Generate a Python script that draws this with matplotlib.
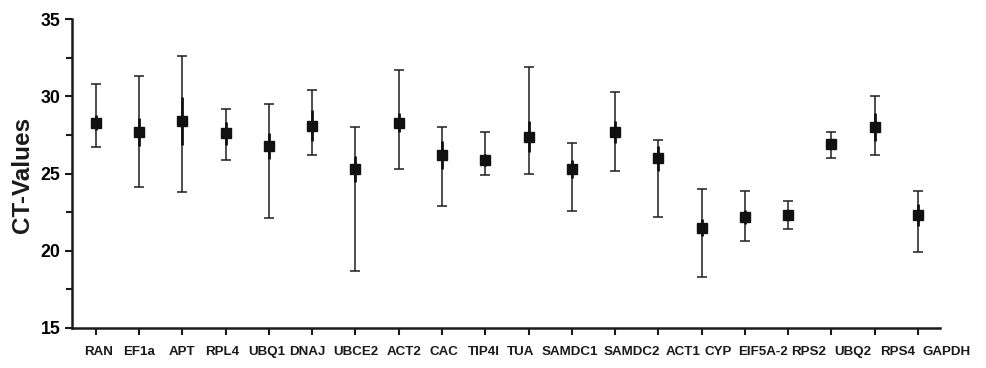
# CT-value ranges of candidate reference genes

import matplotlib.pyplot as plt
import numpy as np

genes = ["RAN", "EF1a", "APT", "RPL4", "UBQ1", "DNAJ", "UBCE2", "ACT2", "CAC", "TIP4I",
         "TUA", "SAMDC1", "SAMDC2", "ACT1", "CYP", "EIF5A-2", "RPS2", "UBQ2", "RPS4", "GAPDH"]

# mean CT per gene
ct_mean = [28.3, 27.7, 28.4, 27.6, 26.8, 28.1, 25.3, 28.3, 26.2, 25.9,
           27.4, 25.3, 27.7, 26.0, 21.5, 22.2, 22.3, 26.9, 28.0, 22.3]
# whiskers: max / min
ct_max = [30.8, 31.3, 32.6, 29.2, 29.5, 30.4, 28.0, 31.7, 28.0, 27.7,
          31.9, 27.0, 30.3, 27.2, 24.0, 23.9, 23.2, 27.7, 30.0, 23.9]
ct_min = [26.7, 24.1, 23.8, 25.9, 22.1, 26.2, 18.7, 25.3, 22.9, 24.9,
          25.0, 22.6, 25.2, 22.2, 18.3, 20.6, 21.4, 26.0, 26.2, 19.9]
# standard deviation (thick inner bar)
ct_sd = [0.5, 0.9, 1.55, 0.75, 0.85, 1.0, 0.85, 0.6, 0.9, 0.4,
         1.0, 0.6, 0.7, 0.8, 0.55, 0.45, 0.3, 0.3, 0.9, 0.7]

# the gene names in the original sit a bit off their ticks (in tick units)
label_shift = [0.07, 0.0, 0.0, -0.09, -0.05, -0.12, 0.01, 0.12, 0.04, -0.03,
               -0.18, -0.04, 0.39, 0.57, 0.38, 0.42, 0.48, 0.5, 0.54, 0.67]

x = np.arange(len(genes))
mean = np.array(ct_mean)
err = [mean - np.array(ct_min), np.array(ct_max) - mean]

fig = plt.figure(figsize=(9.86, 3.68), dpi=100)
ax = fig.add_axes([0.073, 0.109, 0.880, 0.8385])

ink = "#111111"
ax.errorbar(x, mean, yerr=err, fmt="none", ecolor="#1e1e1e", elinewidth=1.1,
            capsize=3.3, capthick=1.1, zorder=2)
ax.errorbar(x, mean, yerr=ct_sd, fmt="none", ecolor=ink, elinewidth=2.0,
            capsize=0, zorder=3)
ax.plot(x, mean, "s", color=ink, markersize=7, zorder=4)

ax.set_xlim(-0.55, 19.5)
ax.set_ylim(15, 35)
ax.set_yticks([15, 20, 25, 30, 35])
ax.set_yticks(np.arange(17.5, 35, 5), minor=True)
ax.set_xticks(x)
ax.set_xticklabels([])

for s in ("top", "right"):
    ax.spines[s].set_visible(False)
for s in ("left", "bottom"):
    ax.spines[s].set_linewidth(1.8)
    ax.spines[s].set_color("#1a1a1a")

ax.tick_params(axis="both", which="both", direction="out", width=1.5, color="#1a1a1a")
ax.tick_params(axis="y", which="major", length=5, pad=3.5, labelsize=12.8)
ax.tick_params(axis="y", which="minor", length=4)
ax.tick_params(axis="x", length=5)
for lab in ax.get_yticklabels():
    lab.set_fontweight("bold")
    lab.set_family(["Liberation Sans", "DejaVu Sans"])

for xi, shift, name in zip(x, label_shift, genes):
    ax.text(xi + shift, -0.078, name, transform=ax.get_xaxis_transform(), ha="center", va="center",
            fontsize=9.6, fontweight="bold", family=["Liberation Sans", "DejaVu Sans"],
            color="#1a1a1a")

fig.text(23 / 986, 1 - 175 / 368, "CT-Values", rotation=90, ha="center", va="center",
         fontsize=17.5, fontweight="bold", family=["Liberation Sans", "DejaVu Sans"], color="#1a1a1a")

fig.savefig("out.png", dpi=100)
